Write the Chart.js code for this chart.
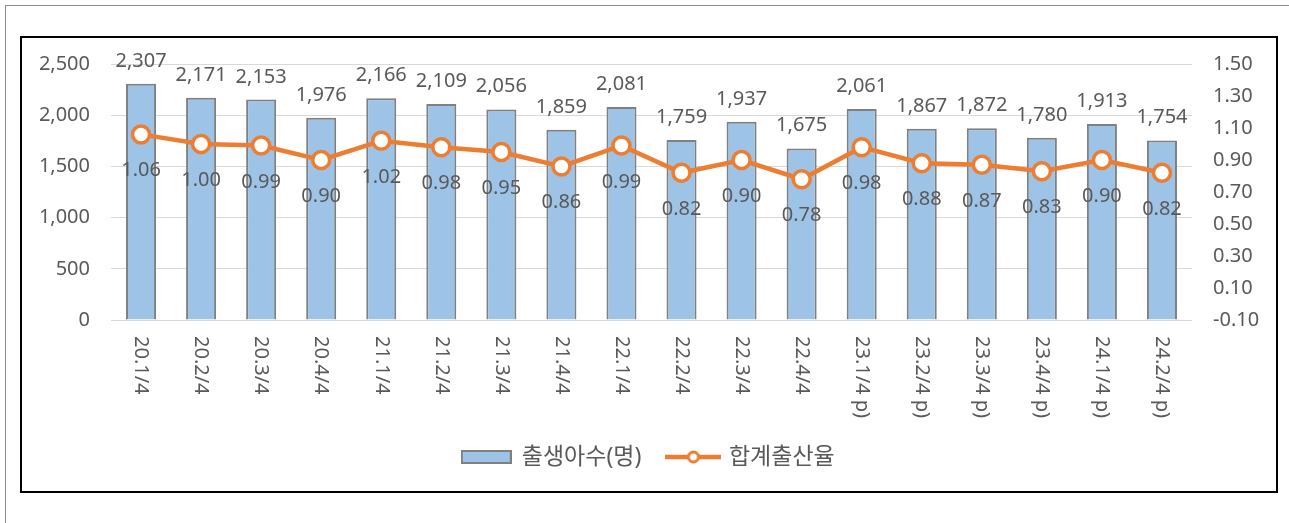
<!DOCTYPE html>
<html>
<head>
<meta charset="utf-8">
<script src="https://cdn.jsdelivr.net/npm/chart.js@4"></script>
<style>
	html, body { margin: 0; padding: 0; background: #fff; }
	#outer { position: absolute; left: 5px; top: 5px; width: 1300px; height: 600px; border-left: 1px solid #8c8c8c; border-top: 1px solid #8c8c8c; }
	#frame { position: absolute; left: 20px; top: 36px; width: 1254px; height: 453px; border: 2px solid #000; }
	#wrap { position: absolute; left: 0; top: 0; width: 1289px; height: 523px; }
</style>
</head>
<body>
<div id="outer"></div>
<div id="frame"></div>
<div id="wrap"><canvas id="myChart"></canvas></div>
<script>
// data
const quarters = ["20.1/4", "20.2/4", "20.3/4", "20.4/4", "21.1/4", "21.2/4", "21.3/4", "21.4/4",
	"22.1/4", "22.2/4", "22.3/4", "22.4/4", "23.1/4 p)", "23.2/4 p)", "23.3/4 p)", "23.4/4 p)",
	"24.1/4 p)", "24.2/4 p)"];
const births = [2307, 2171, 2153, 1976, 2166, 2109, 2056, 1859, 2081, 1759, 1937, 1675, 2061, 1867, 1872, 1780, 1913, 1754];
const rates = [1.06, 1.00, 0.99, 0.90, 1.02, 0.98, 0.95, 0.86, 0.99, 0.82, 0.90, 0.78, 0.98, 0.88, 0.87, 0.83, 0.90, 0.82];
const leftTicks = [0, 500, 1000, 1500, 2000, 2500];
const rightTicks = [-0.10, 0.10, 0.30, 0.50, 0.70, 0.90, 1.10, 1.30, 1.50];
const seriesNames = ["출생아수(명)", "합계출산율"];

const textColor = '#595959';
const numFont = '"Noto Sans", "Noto Sans CJK KR", sans-serif';

// legend icons
function makeBarIcon() {
	const c = document.createElement('canvas');
	c.width = 51; c.height = 14;
	const g = c.getContext('2d');
	g.fillStyle = '#9DC3E6';
	g.fillRect(1, 1, 49, 12);
	g.strokeStyle = '#808080';
	g.lineWidth = 2;
	g.strokeRect(1, 1, 49, 12);
	return c;
}
function makeLineIcon() {
	const c = document.createElement('canvas');
	c.width = 56; c.height = 20;
	const g = c.getContext('2d');
	g.strokeStyle = '#ED7D31';
	g.lineWidth = 4.5;
	g.beginPath(); g.moveTo(0, 10); g.lineTo(56, 10); g.stroke();
	g.beginPath(); g.arc(28, 10, 5, 0, Math.PI * 2);
	g.fillStyle = '#fff'; g.fill();
	g.lineWidth = 3; g.stroke();
	return c;
}
const barIcon = makeBarIcon();
const lineIcon = makeLineIcon();

const labelPlugin = {
	id: 'valueLabels',
	afterDatasetsDraw(chart) {
		const ctx = chart.ctx;
		ctx.save();
		ctx.font = '20px ' + numFont;
		ctx.fillStyle = textColor;
		ctx.textAlign = 'center';
		ctx.textBaseline = 'alphabetic';
		chart.getDatasetMeta(0).data.forEach((bar, i) => {
			ctx.fillText(births[i].toLocaleString('en-US'), bar.x, bar.y - 17);
		});
		chart.getDatasetMeta(1).data.forEach((pt, i) => {
			ctx.fillText(rates[i].toFixed(2), pt.x, pt.y + 42);
		});
		// x labels, rotated clockwise
		const xs = chart.scales.x;
		ctx.textAlign = 'left';
		ctx.textBaseline = 'middle';
		quarters.forEach((q, i) => {
			ctx.save();
			ctx.translate(xs.getPixelForValue(i), xs.top + 16);
			ctx.rotate(Math.PI / 2);
			ctx.fillText(q, 0, 0);
			ctx.restore();
		});
		ctx.restore();
	}
};

const ctx = document.getElementById('myChart').getContext('2d');
const myChart = new Chart(ctx, {
	type: 'bar',
	data: {
		labels: quarters,
		datasets: [{
			label: seriesNames[0],
			data: births,
			yAxisID: 'y',
			backgroundColor: '#9DC3E6',
			borderColor: '#808080',
			borderWidth: 2,
			categoryPercentage: 1,
			barPercentage: 0.5,
			order: 1
		}, {
			type: 'line',
			label: seriesNames[1],
			data: rates,
			yAxisID: 'y1',
			borderColor: '#ED7D31',
			borderWidth: 4.5,
			pointRadius: 8.5,
			pointHoverRadius: 8.5,
			pointBackgroundColor: '#fff',
			pointBorderColor: '#ED7D31',
			pointBorderWidth: 3.5,
			tension: 0,
			order: 0
		}]
	},
	options: {
		responsive: true,
		maintainAspectRatio: false,
		animation: false,
		layout: { padding: { left: 22, right: 14, top: 64, bottom: 44.5 } },
		plugins: {
			tooltip: { enabled: false },
			legend: {
				position: 'bottom',
				labels: {
					usePointStyle: true,
					pointStyleWidth: 48,
					boxHeight: 14,
					padding: 28,
					color: textColor,
					font: { family: numFont, size: 23 },
					generateLabels: () => [
						{ text: seriesNames[0], pointStyle: barIcon, fillStyle: '#9DC3E6', strokeStyle: '#808080', lineWidth: 0, hidden: false, datasetIndex: 0, fontColor: textColor },
						{ text: seriesNames[1], pointStyle: lineIcon, fillStyle: '#fff', strokeStyle: '#ED7D31', lineWidth: 0, hidden: false, datasetIndex: 1, fontColor: textColor }
					]
				}
			}
		},
		scales: {
			x: {
				grid: { display: false },
				border: { display: false },
				ticks: { display: false },
				afterFit: s => { s.height = 97.5; }
			},
			y: {
				position: 'left',
				min: 0,
				max: 2500,
				grid: { color: '#D9D9D9', lineWidth: 1, drawTicks: false },
				border: { display: false },
				ticks: {
					padding: 21,
					color: textColor,
					font: { family: numFont, size: 20 },
					callback: v => v.toLocaleString('en-US')
				},
				afterBuildTicks: s => { s.ticks = leftTicks.map(v => ({ value: v })); },
				afterFit: s => { s.width = 89; }
			},
			y1: {
				position: 'right',
				min: -0.1,
				max: 1.5,
				grid: { display: false, drawTicks: false },
				border: { display: false },
				ticks: {
					padding: 21,
					color: textColor,
					font: { family: numFont, size: 20 },
					callback: v => v.toFixed(2)
				},
				afterBuildTicks: s => { s.ticks = rightTicks.map(v => ({ value: v })); },
				afterFit: s => { s.width = 83; }
			}
		}
	},
	plugins: [labelPlugin]
});
</script>
</body>
</html>
